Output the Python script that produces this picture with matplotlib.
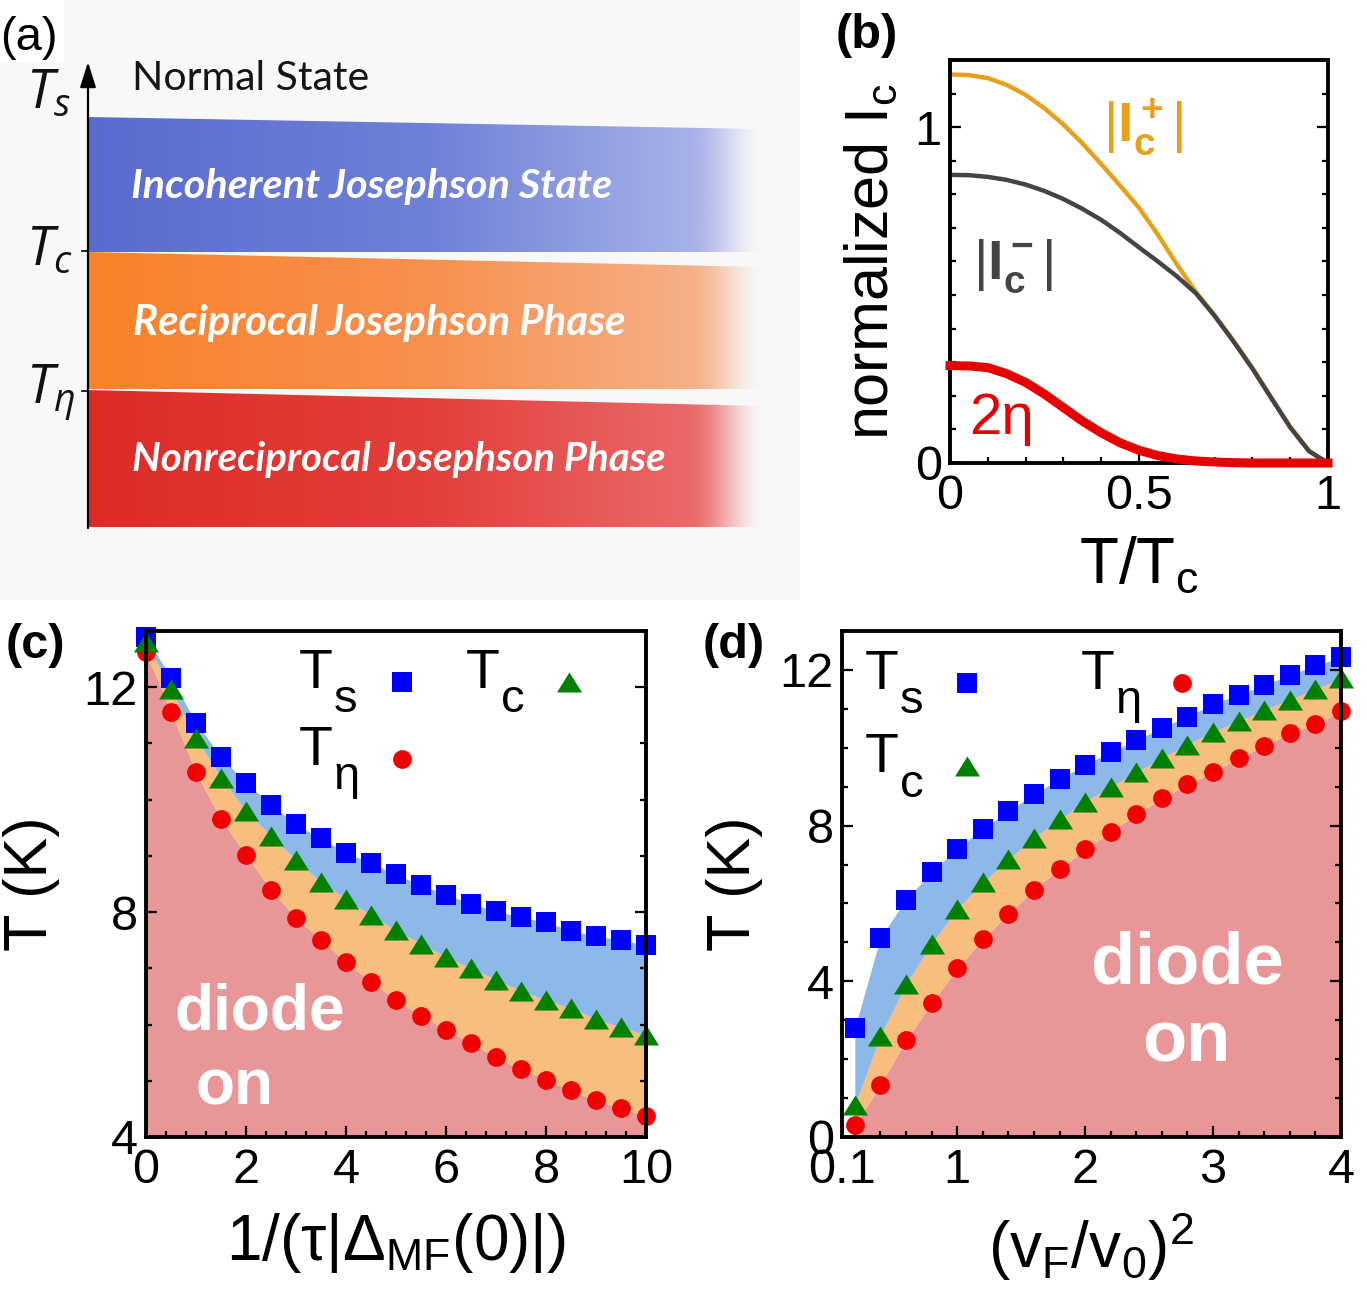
import numpy as np
import matplotlib
matplotlib.use("Agg")
import matplotlib.pyplot as plt
from matplotlib.font_manager import FontProperties
from matplotlib.patches import Polygon, Rectangle
from matplotlib.ticker import MultipleLocator, FixedLocator, FixedFormatter
from matplotlib.colors import to_rgb
from matplotlib.legend_handler import HandlerLine2D

# ---------------- data ----------------
# panel (a) schematic
top_state = "Normal State"
phase_names = ["Incoherent Josephson State", "Reciprocal Josephson Phase",
               "Nonreciprocal Josephson Phase"]
temp_labels = [r"$T_{s}$", r"$T_{c}$", r"$T_{η}$"]

# panel (b)
t_over_tc = [0.0, 0.05, 0.1, 0.15, 0.2, 0.25, 0.3, 0.35, 0.4, 0.45, 0.5,
             0.55, 0.6, 0.65, 0.7, 0.75, 0.8, 0.85, 0.9, 0.95, 1.0]
ic_plus = [1.157, 1.155, 1.146, 1.126, 1.096, 1.056, 1.008, 0.952, 0.890, 0.826,
           0.760, 0.680, 0.592, 0.510, 0.440, 0.364, 0.283, 0.195, 0.108, 0.036, 0.0]
ic_minus = [0.858, 0.857, 0.852, 0.843, 0.829, 0.810, 0.786, 0.757, 0.724, 0.685,
            0.642, 0.600, 0.556, 0.506, 0.438, 0.362, 0.281, 0.193, 0.106, 0.035, 0.0]
two_eta = [0.290, 0.289, 0.284, 0.266, 0.240, 0.205, 0.165, 0.125, 0.090, 0.060,
           0.038, 0.022, 0.012, 0.006, 0.003, 0.001, 0.0, 0.0, 0.0, 0.0, 0.0]

# panel (c)
x_c = [0.0, 0.5, 1.0, 1.5, 2.0, 2.5, 3.0, 3.5, 4.0, 4.5, 5.0,
       5.5, 6.0, 6.5, 7.0, 7.5, 8.0, 8.5, 9.0, 9.5, 10.0]
ts_c = [12.89, 12.17, 11.37, 10.76, 10.30, 9.91, 9.56, 9.31, 9.06, 8.87, 8.67,
        8.48, 8.31, 8.15, 8.02, 7.91, 7.82, 7.67, 7.57, 7.51, 7.41]
tc_c = [12.81, 11.96, 11.09, 10.39, 9.80, 9.35, 8.93, 8.53, 8.24, 7.94, 7.68,
        7.44, 7.20, 7.00, 6.80, 6.60, 6.43, 6.29, 6.10, 5.95, 5.81]
teta_c = [12.62, 11.56, 10.49, 9.65, 9.02, 8.40, 7.90, 7.51, 7.11, 6.76, 6.44,
          6.16, 5.91, 5.67, 5.42, 5.21, 5.02, 4.83, 4.65, 4.51, 4.38]

# panel (d)
x_d = [0.2, 0.4, 0.6, 0.8, 1.0, 1.2, 1.4, 1.6, 1.8, 2.0,
       2.2, 2.4, 2.6, 2.8, 3.0, 3.2, 3.4, 3.6, 3.8, 4.0]
ts_d = [2.80, 5.12, 6.10, 6.80, 7.41, 7.92, 8.37, 8.81, 9.20, 9.56,
        9.90, 10.19, 10.52, 10.80, 11.13, 11.36, 11.61, 11.87, 12.12, 12.32]
tc_d = [0.81, 2.60, 3.92, 4.97, 5.85, 6.54, 7.13, 7.69, 8.16, 8.61,
        9.00, 9.37, 9.74, 10.08, 10.41, 10.69, 10.97, 11.24, 11.50, 11.78]
teta_d = [0.30, 1.34, 2.49, 3.44, 4.33, 5.08, 5.73, 6.35, 6.89, 7.39,
          7.84, 8.29, 8.70, 9.06, 9.37, 9.74, 10.04, 10.38, 10.60, 10.94]

xticks_d = [0.1, 1, 2, 3, 4]
xticklabels_d = ["0.1", "1", "2", "3", "4"]

# ---------------- style ----------------
plt.rcParams.update({
    "font.family": ["Liberation Sans", "DejaVu Sans"],
    "mathtext.fontset": "custom",
    "mathtext.rm": "Liberation Sans",
    "mathtext.it": "Open Sans:italic",
    "mathtext.bf": "Liberation Sans:bold",
    "mathtext.sf": "Liberation Sans",
    "axes.linewidth": 2.8,
})

W, H = 1367, 1290
fig = plt.figure(figsize=(W / 100, H / 100), dpi=100)


def rect(x0, y0, x1, y1):
    return [x0 / W, 1 - y1 / H, (x1 - x0) / W, (y1 - y0) / H]


band_family = ["Lato", "Open Sans", "DejaVu Sans"]

C_BLUE, C_GREEN, C_RED = "#0000ff", "#008000", "#f00000"
F_PINK, F_ORANGE, F_BLUE = "#e89698", "#f8be7e", "#8cb9e8"
TRI = [(0, 0.8), (-1, -0.8), (1, -0.8)]


class LowMarker(HandlerLine2D):
    """Legend key whose marker sits a little lower, next to the letter body."""

    def __init__(self, dy, **kw):
        super().__init__(**kw)
        self.dy = dy

    def create_artists(self, *args, **kw):
        arts = super().create_artists(*args, **kw)
        for a in arts:
            a.set_ydata(np.asarray(a.get_ydata(), dtype=float) - self.dy)
        return arts


def style_ticks(ax, fs):
    ax.tick_params(which="both", direction="in", top=False, right=True,
                   width=1.6, labelsize=fs)
    ax.tick_params(which="major", length=8)
    ax.tick_params(which="minor", length=4.5)
    ax.tick_params(axis="x", which="both", pad=8)
    ax.tick_params(axis="y", which="both", pad=6)
    for sp in ax.spines.values():
        sp.set_linewidth(2.8)
        sp.set_zorder(3)


# ---------------- panel (a) ----------------
axA = fig.add_axes(rect(0, 0, 800, 600))
axA.axis("off")
axA.add_patch(Rectangle((0, 0), 800, 600, facecolor="#f8f8f8", edgecolor="none", zorder=0))
axA.add_patch(Rectangle((0, 0), 64, 62, facecolor="white", edgecolor="none", zorder=0.5))

band_geom = [(117, 129, 252), (252, 267, 389), (390, 406, 527)]
band_stops = [("#5a6bd0", "#6f80d7", "#a9b3ea"),
              ("#f9822a", "#f8904f", "#f6b189"),
              ("#de2b27", "#e33f3b", "#eb6a6a")]
x0b, x1b = 88, 772
xs = np.linspace(x0b, x1b, 700)
for (tl, tr, bt), stops in zip(band_geom, band_stops):
    c = np.array([to_rgb(s) for s in stops])
    px = [x0b, 430, 700]
    rgb = np.stack([np.interp(xs, px, c[:, k]) for k in range(3)], axis=-1)
    a = np.clip((765 - xs) / (765 - 690), 0, 1)
    a = a * a * (3 - 2 * a)
    img = np.concatenate([rgb, a[:, None]], axis=-1)[None, :, :].repeat(2, axis=0)
    im = axA.imshow(img, extent=(x0b, x1b, bt, tl - 2), aspect="auto",
                    interpolation="bilinear", zorder=1)
    slope = (tr - tl) / (760 - 88)
    poly = Polygon([(x0b, tl), (x1b, tl + slope * (x1b - x0b)), (x1b, bt), (x0b, bt)],
                   closed=True, transform=axA.transData)
    im.set_clip_path(poly)

axA.set_xlim(0, 800)
axA.set_ylim(600, 0)

axA.annotate("", xy=(88, 62), xytext=(88, 528),
             arrowprops=dict(arrowstyle="-|>,head_length=0.7,head_width=0.22",
                             color="black", lw=1.6, shrinkA=0, shrinkB=0,
                             mutation_scale=22), zorder=5)
for yy in (251, 391):
    axA.plot([82, 88], [yy, yy], color="black", lw=1.2, zorder=5)

t_base = [108, 265, 403]
for tb, lab in zip(t_base, temp_labels):
    axA.text(26, tb, lab, fontsize=39, va="baseline", ha="left",
             color="#111111", zorder=6)

renderer = fig.canvas.get_renderer()


def fit_width(t, target):
    w = t.get_window_extent(renderer).width
    t.set_fontsize(t.get_fontsize() * target / w)


t_ns = axA.text(132, 90, top_state, fontsize=30, family=band_family,
                color="#151515", va="baseline", ha="left", zorder=6)
fit_width(t_ns, 237)

band_text_pos = [(131, 198, 482), (133, 335, 493), (132, 471, 535)]
for (bx, by, bw), name in zip(band_text_pos, phase_names):
    tt = axA.text(bx, by, name, fontsize=34, family=band_family, style="italic",
                  weight="bold", color="white", va="baseline", ha="left", zorder=6)
    fit_width(tt, bw)

# ---------------- panel (b) ----------------
axB = fig.add_axes(rect(950, 60, 1328, 463))
axB.plot(t_over_tc, ic_plus, color="#e8a01a", lw=3.2, zorder=2)
axB.plot(t_over_tc, ic_minus, color="#444444", lw=3.2, zorder=2.1)
axB.plot(t_over_tc, two_eta, color="#e80000", lw=6.5, zorder=3.5, clip_on=False)
axB.set_xlim(0, 1)
axB.set_ylim(0, 1.2)
axB.xaxis.set_major_locator(FixedLocator([0, 0.5, 1]))
axB.xaxis.set_major_formatter(FixedFormatter(["0", "0.5", "1"]))
axB.xaxis.set_minor_locator(MultipleLocator(0.1))
axB.yaxis.set_major_locator(FixedLocator([0, 1]))
axB.yaxis.set_major_formatter(FixedFormatter(["0", "1"]))
axB.yaxis.set_minor_locator(MultipleLocator(0.1))
style_ticks(axB, 35)
axB.set_xlabel(r"$\mathrm{T/T_c}$", fontsize=46, labelpad=12)
axB.set_ylabel(r"$\mathrm{normalized\ I_c}$", fontsize=44, labelpad=10)
axB.text(0.405, 1.0, r"$\mathrm{|}\mathbf{I_c^+}\mathrm{|}$", color="#e8a01a",
         fontsize=40, va="center", ha="left")
axB.text(0.062, 0.585, r"$\mathrm{|}\mathbf{I_c^-}\mathrm{|}$", color="#444444",
         fontsize=40, va="center", ha="left")
axB.text(0.05, 0.13, "2η", color="#e80000", fontsize=42, va="center", ha="left")


# ---------------- panels (c) and (d) ----------------
def phase_panel(box, x, ts, tc, te, base):
    ax = fig.add_axes(rect(*box))
    ax.fill_between(x, base, te, color=F_PINK, lw=0, zorder=1)
    ax.fill_between(x, te, tc, color=F_ORANGE, lw=0, zorder=1)
    ax.fill_between(x, tc, ts, color=F_BLUE, lw=0, zorder=1)
    hs, = ax.plot(x, ts, ls="none", marker="s", color=C_BLUE, ms=14, mew=0,
                  clip_on=False, zorder=2.2)
    he, = ax.plot(x, te, ls="none", marker="o", color=C_RED, ms=13.5, mew=0,
                  clip_on=False, zorder=2.25)
    hc, = ax.plot(x, tc, ls="none", marker=TRI, color=C_GREEN, ms=18, mew=0,
                  clip_on=False, zorder=2.3)
    return ax, hs, hc, he


axC, hs_c, hc_c, he_c = phase_panel((146, 631, 646, 1137), x_c, ts_c, tc_c, teta_c, 0)
axC.set_xlim(0, 10)
axC.set_ylim(4, 13)
axC.xaxis.set_major_locator(MultipleLocator(2))
axC.xaxis.set_minor_locator(MultipleLocator(0.4))
axC.yaxis.set_major_locator(MultipleLocator(4))
axC.yaxis.set_minor_locator(MultipleLocator(1))
style_ticks(axC, 35)
axC.set_xlabel(r"$\mathrm{1/(τ|Δ_{MF}(0)|)}$", fontsize=46, labelpad=13)
axC.set_ylabel("T (K)", fontsize=44, labelpad=17)
axC.text(0.228, 0.247, "diode", transform=axC.transAxes, fontsize=46,
         weight="bold", color="white", ha="center", va="center", zorder=2.5)
axC.text(0.178, 0.097, "on", transform=axC.transAxes, fontsize=46,
         weight="bold", color="white", ha="center", va="center", zorder=2.5)
legC = axC.legend([hs_c, he_c, hc_c], ["T", "T", "T"], loc="upper left",
                  bbox_to_anchor=(0.305, 0.966), ncol=2, markerfirst=False,
                  frameon=False, fontsize=40, handlelength=0.6, handleheight=0.1,
                  handletextpad=0.95, columnspacing=0.85, labelspacing=0.45,
                  borderpad=0, borderaxespad=0,
                  handler_map={hs_c: LowMarker(6), he_c: LowMarker(6), hc_c: LowMarker(6)})
subs_c = ["s", "η", "c"]

axD, hs_d, hc_d, he_d = phase_panel((842, 631, 1341, 1137), x_d, ts_d, tc_d, teta_d, 0)
axD.set_xlim(0.1, 4)
axD.set_ylim(0, 13)
axD.xaxis.set_major_locator(FixedLocator(xticks_d))
axD.xaxis.set_major_formatter(FixedFormatter(xticklabels_d))
axD.xaxis.set_minor_locator(FixedLocator(x_d))
axD.yaxis.set_major_locator(MultipleLocator(4))
axD.yaxis.set_minor_locator(MultipleLocator(1))
style_ticks(axD, 35)
axD.set_xlabel(r"$\mathrm{(v_F/v_0)^2}$", fontsize=46, labelpad=12)
axD.set_ylabel("T (K)", fontsize=44, labelpad=12)
axD.text(0.693, 0.34, "diode", transform=axD.transAxes, fontsize=52,
         weight="bold", color="white", ha="center", va="center", zorder=2.5)
axD.text(0.69, 0.186, "on", transform=axD.transAxes, fontsize=52,
         weight="bold", color="white", ha="center", va="center", zorder=2.5)
legD = axD.legend([hs_d, hc_d, he_d], ["T", "T", "T"], loc="upper left",
                  bbox_to_anchor=(0.046, 0.964), ncol=2, markerfirst=False,
                  frameon=False, fontsize=40, handlelength=0.6, handleheight=0.1,
                  handletextpad=0.92, columnspacing=1.75, labelspacing=0.56,
                  borderpad=0, borderaxespad=0,
                  handler_map={hs_d: LowMarker(6), hc_d: LowMarker(6), he_d: LowMarker(6)})
subs_d = ["s", "c", "η"]

# panel labels
fig.text(0, 1 - 38 / H, "(a)", fontsize=34, va="center", ha="left")
fig.text(836 / W, 1 - 35 / H, "(b)", fontsize=35, weight="bold", va="center", ha="left")
fig.text(6 / W, 1 - 646 / H, "(c)", fontsize=35, weight="bold", va="center", ha="left")
fig.text(703 / W, 1 - 646 / H, "(d)", fontsize=35, weight="bold", va="center", ha="left")

# full-size lowered subscripts attached to the legend labels
fig.canvas.draw()
renderer = fig.canvas.get_renderer()
fs_px = 40 * 100 / 72
for leg, subs in ((legC, subs_c), (legD, subs_d)):
    for txt, sub in zip(leg.get_texts(), subs):
        bb = txt.get_window_extent(renderer)
        baseline = bb.y0 + 0.212 * fs_px
        fig.text((bb.x1 + 1) / W, (baseline - 24) / H, sub, fontsize=34,
                 va="baseline", ha="left")

fig.savefig("out.png", dpi=100)
